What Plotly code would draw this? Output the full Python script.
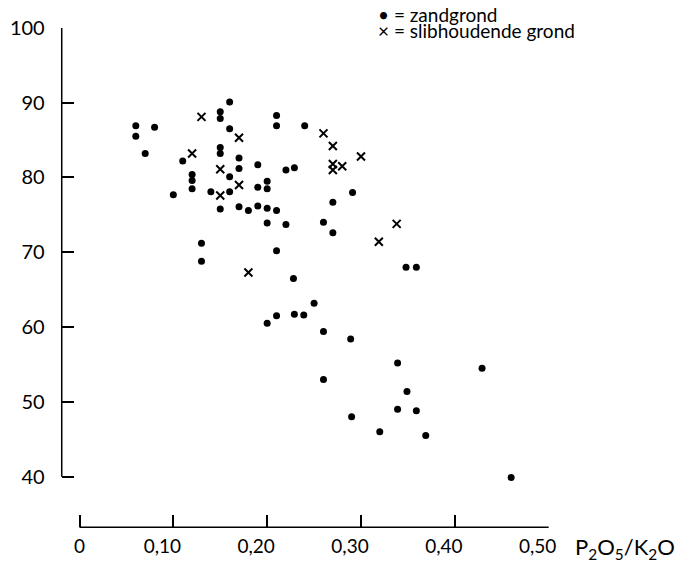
import plotly.graph_objects as go

# zandgrond (dots)
sand_x = [0.06, 0.06, 0.08, 0.07, 0.11, 0.12, 0.12, 0.12, 0.10, 0.15, 0.15, 0.16,
          0.16, 0.15, 0.15, 0.17, 0.17, 0.16, 0.14, 0.16, 0.15, 0.17, 0.18, 0.19,
          0.20, 0.21, 0.19, 0.20, 0.20, 0.19, 0.22, 0.229, 0.20, 0.22, 0.21, 0.21,
          0.24, 0.291, 0.27, 0.26, 0.27, 0.13, 0.13, 0.21, 0.228, 0.25, 0.26, 0.289,
          0.20, 0.21, 0.229, 0.239, 0.348, 0.359, 0.429, 0.46, 0.26, 0.29, 0.32, 0.369,
          0.339, 0.349, 0.339, 0.359]
sand_y = [86.9, 85.5, 86.7, 83.2, 82.2, 80.4, 79.6, 78.5, 77.7, 88.8, 87.9, 90.1,
          86.5, 84.0, 83.2, 82.6, 81.2, 80.1, 78.1, 78.1, 75.8, 76.1, 75.6, 76.2,
          75.9, 75.6, 78.7, 78.5, 79.5, 81.7, 81.0, 81.3, 73.9, 73.7, 88.3, 86.9,
          86.9, 78.0, 76.7, 74.0, 72.6, 71.2, 68.8, 70.2, 66.5, 63.2, 59.4, 58.4,
          60.5, 61.5, 61.7, 61.6, 68.0, 68.0, 54.5, 39.9, 53.0, 48.0, 46.0, 45.5,
          55.2, 51.4, 49.0, 48.8]

# slibhoudende grond (crosses)
clay_x = [0.13, 0.17, 0.12, 0.15, 0.17, 0.15, 0.18, 0.26, 0.27, 0.30, 0.27, 0.27,
          0.28, 0.338, 0.319]
clay_y = [88.1, 85.3, 83.2, 81.1, 79.0, 77.6, 67.3, 85.9, 84.2, 82.8, 81.8, 81.0,
          81.5, 73.8, 71.4]

x_ticks = [0, 0.1, 0.2, 0.3, 0.4, 0.5]
x_labels = ["\u2007\u20070", "0,10", "0,20", "0,30", "0,40", "0,50"]
y_ticks = [40, 50, 60, 70, 80, 90, 100]
y_labels = ["40", "50", "60", "70", "80", "90", "100"]

W, H = 692, 576
ml, mr, mt, mb = 40, 2, 10, 30
pw = W - ml - mr
ph = H - mt - mb

# pixel geometry of the frame
Y_LINE_X = 62      # y axis line (px)
X_LINE_Y = 527     # x axis line (px)
X0_PX, X1_PX = 80, 555     # x = 0 and x = 0.5
Y100_PX, Y40_PX = 23, 476  # y = 100 and y = 40

def px_x(p):
    return (p - ml) / pw

def px_y(p):
    return (H - mb - p) / ph

# x axis: plot area starts at the y-axis line, range extended so 0 lands at X0_PX
x_per_px = 0.5 / (X1_PX - X0_PX)
x_min = 0 - (X0_PX - Y_LINE_X) * x_per_px
# y axis: plot area ends at the x-axis line, range extended so 40 lands at Y40_PX
y_per_px = 60 / (Y40_PX - Y100_PX)
y_min = 40 - (X_LINE_Y - Y40_PX) * y_per_px

fig = go.Figure()
fig.add_trace(go.Scatter(x=sand_x, y=sand_y, mode="markers", name="zandgrond",
                         marker=dict(symbol="circle", size=7, color="black"),
                         cliponaxis=False))
fig.add_trace(go.Scatter(x=clay_x, y=clay_y, mode="markers", name="slibhoudende grond",
                         marker=dict(symbol="x-thin", size=8, color="black",
                                     line=dict(width=2, color="black")),
                         cliponaxis=False))

fig.update_layout(
    width=W, height=H,
    margin=dict(l=ml, r=mr, t=mt, b=mb),
    plot_bgcolor="white", paper_bgcolor="white",
    font=dict(family="Lato", size=19, color="black"),
    showlegend=False,
    xaxis=dict(range=[x_min, 0.5], domain=[px_x(Y_LINE_X), px_x(X1_PX)],
               anchor="y", showline=False,
               ticks="inside", ticklen=12, tickwidth=1.5, tickcolor="black",
               tickvals=x_ticks, ticktext=x_labels, ticklabelshift=-11,
               ticklabelstandoff=6,
               showgrid=False, zeroline=False),
    yaxis=dict(range=[y_min, 100], domain=[px_y(X_LINE_Y), px_y(Y100_PX)],
               anchor="x", showline=False,
               ticks="inside", ticklen=12, tickwidth=1.5, tickcolor="black",
               tickvals=y_ticks, ticktext=y_labels, ticklabelstandoff=16,
               tickfont=dict(size=20),
               showgrid=False, zeroline=False),
)

# axis lines (detached frame, as in the reference)
fig.add_shape(type="line", xref="paper", yref="paper",
              x0=px_x(Y_LINE_X), x1=px_x(Y_LINE_X), y0=px_y(Y40_PX), y1=px_y(Y100_PX),
              line=dict(color="black", width=1.5))
fig.add_shape(type="line", xref="paper", yref="paper",
              x0=px_x(X0_PX), x1=px_x(X1_PX), y0=px_y(X_LINE_Y), y1=px_y(X_LINE_Y),
              line=dict(color="black", width=1.5))

fig.add_annotation(text="P<sub>2</sub>O<sub>5</sub>/K<sub>2</sub>O", xref="paper", yref="paper",
                   x=px_x(580), y=px_y(548), xanchor="left", yanchor="middle",
                   showarrow=False, font=dict(size=22))
fig.add_annotation(text="\u2022 = zandgrond", xref="paper", yref="paper",
                   x=px_x(380), y=px_y(9), xanchor="left", yanchor="middle",
                   showarrow=False, font=dict(size=19))
fig.add_annotation(text="\u00d7 = slibhoudende grond", xref="paper", yref="paper",
                   x=px_x(380), y=px_y(26), xanchor="left", yanchor="middle",
                   showarrow=False, font=dict(size=19))

fig.write_html("out.html")
